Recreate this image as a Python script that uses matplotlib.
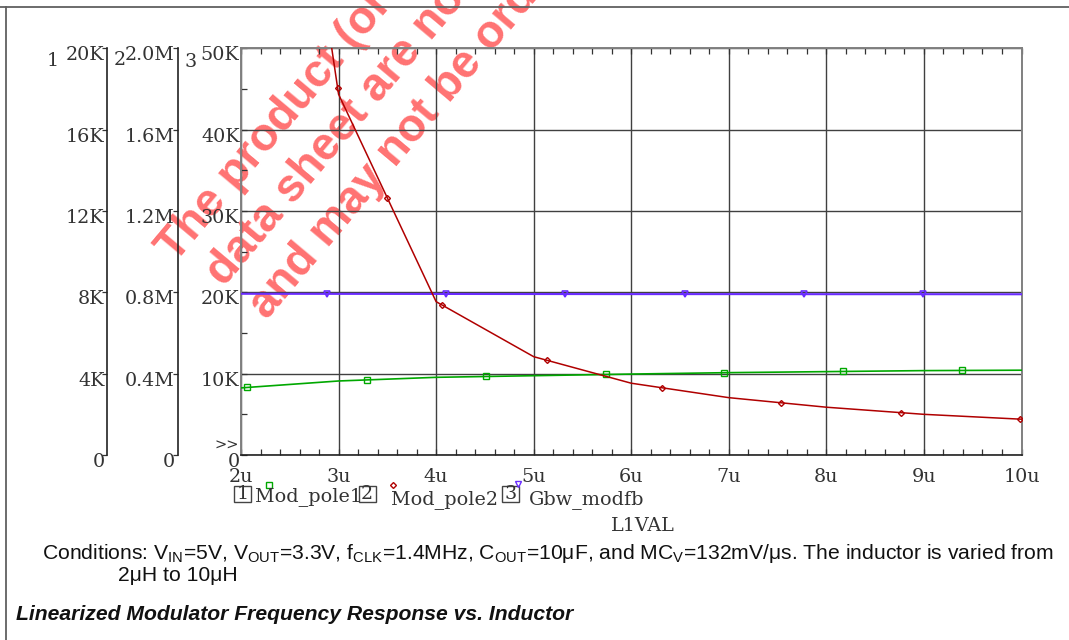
import numpy as np
import matplotlib
matplotlib.use("Agg")
import matplotlib.pyplot as plt
import matplotlib.transforms as mtransforms
from matplotlib.lines import Line2D
from matplotlib.patches import Rectangle
from matplotlib.ticker import MultipleLocator

plt.rcParams['mathtext.fontset'] = 'custom'
plt.rcParams['mathtext.rm'] = 'Liberation Sans'

# data (inductance in uH)
l1val = [2, 3, 4, 5, 6, 7, 8, 9, 10]
mod_pole1 = [3300, 3640, 3820, 3900, 3980, 4050, 4100, 4150, 4170]           # axis 1
mod_pole2 = [5.01e6, 1.774e6, 0.754e6, 0.4835e6, 0.353e6, 0.282e6,
             0.235e6, 0.200e6, 0.176e6]                                         # axis 2
gbw_modfb = [19820, 19810, 19800, 19790, 19780, 19780, 19770, 19770, 19760]   # axis 3

# where the probe tool put its trace markers
pole1_marks = [2.06, 3.29, 4.51, 5.74, 6.95, 8.17, 9.39]
pole2_marks = [2.99, 3.50, 4.06, 5.14, 6.32, 7.54, 8.76, 9.98]
gbw_marks = [2.88, 4.10, 5.32, 6.55, 7.77, 8.99]

x_ticks = [2, 3, 4, 5, 6, 7, 8, 9, 10]
x_labels = ['2u', '3u', '4u', '5u', '6u', '7u', '8u', '9u', '10u']
ax1_ticks = [0, 4000, 8000, 12000, 16000, 20000]
ax1_labels = ['0', '4K', '8K', '12K', '16K', '20K']
ax2_ticks = [0, 0.4e6, 0.8e6, 1.2e6, 1.6e6, 2.0e6]
ax2_labels = ['0', '0.4M', '0.8M', '1.2M', '1.6M', '2.0M']
ax3_ticks = [0, 10000, 20000, 30000, 40000, 50000]
ax3_labels = ['0', '10K', '20K', '30K', '40K', '50K']

W, H = 1069, 640
GREEN, RED, BLUE = '#00a800', '#b00000', '#6a2cff'
INK = '#333333'
SERIF = 'DejaVu Serif'
FS = 13.8
NOTE_FS = 15.2


def fx(x):
    return x / W


def fy(y):
    return 1 - y / H


fig = plt.figure(figsize=(W / 100, H / 100), dpi=100)

# watermark, underneath everything
wm = ['The product (or products) described in this',
      'data sheet are no longer available',
      'and may not be ordered.']
wm_pos = [(175, 264), (224, 288), (267, 321)]
for txt, (px, py) in zip(wm, wm_pos):
    fig.text(fx(px), fy(py), txt, rotation=50, rotation_mode='anchor',
             ha='left', va='baseline', color='#ff7272', fontsize=33,
             fontweight='bold', family='Liberation Sans', zorder=-1)

# page frame
fig.add_artist(Line2D([0, 1], [fy(7.3), fy(7.3)], color='#606060', lw=1.3))
fig.add_artist(Line2D([fx(5.7), fx(5.7)], [fy(7.3), 0], color='#606060', lw=1.3))

ax = fig.add_axes([fx(241), fy(455), 780.5 / W, 406.7 / H])
ax.patch.set_alpha(0)
ax.set_xlim(2, 10)
ax.set_ylim(0, 50000)
ax.set_xticks(x_ticks)
ax.set_xticklabels(x_labels)
ax.set_yticks(ax3_ticks)
ax.set_yticklabels(ax3_labels)
ax.xaxis.set_minor_locator(MultipleLocator(0.2))
ax.yaxis.set_minor_locator(MultipleLocator(5000))
ax.tick_params(which='both', direction='in', top=True, right=True,
               color=INK, width=0.9)
ax.tick_params(which='major', length=4, labelsize=FS, labelcolor=INK)
ax.tick_params(axis='x', which='major', pad=9)
ax.tick_params(axis='y', which='major', pad=1.0)
ax.tick_params(which='minor', length=4)
for lab in ax.get_xticklabels() + ax.get_yticklabels():
    lab.set_family(SERIF)
ax.grid(True, which='major', color='#404040', lw=1.0)
for side in ['left', 'top', 'right']:
    ax.spines[side].set_color('#808080')
    ax.spines[side].set_linewidth(1.4)
ax.spines['bottom'].set_color('#222222')
ax.spines['bottom'].set_linewidth(1.2)

ax.plot(l1val, gbw_modfb, color=BLUE, lw=1.5, zorder=3)
ax.plot(gbw_marks, np.interp(gbw_marks, l1val, gbw_modfb), ls='none',
        marker='v', ms=4, mfc='none', mec=BLUE, mew=1.2, zorder=3)


def side_axis(pos, lim, ticks, labels):
    a = ax.twinx()
    a.set_ylim(*lim)
    a.spines['left'].set_position(('axes', pos))
    a.spines['left'].set_visible(True)
    a.spines['left'].set_color('#222222')
    a.spines['left'].set_linewidth(1.2)
    for side in ['right', 'top', 'bottom']:
        a.spines[side].set_visible(False)
    a.yaxis.set_ticks_position('left')
    a.yaxis.set_label_position('left')
    a.set_yticks(ticks)
    a.set_yticklabels(labels)
    a.tick_params(axis='y', direction='out', length=3.5, width=0.9,
                  color=INK, pad=-1.5, labelsize=FS, labelcolor=INK)
    for lab in a.get_yticklabels():
        lab.set_family(SERIF)
    return a


ax1 = side_axis(-0.1713, (0, 20000), ax1_ticks, ax1_labels)
ax2 = side_axis(-0.0811, (0, 2.0e6), ax2_ticks, ax2_labels)

ax1.plot(l1val, mod_pole1, color=GREEN, lw=1.2)
ax1.plot(pole1_marks, np.interp(pole1_marks, l1val, mod_pole1), ls='none',
         marker='s', ms=4, mfc='none', mec=GREEN, mew=1.0)
ax2.plot(l1val, mod_pole2, color=RED, lw=1.1)
ax2.plot(pole2_marks, np.interp(pole2_marks, l1val, mod_pole2), ls='none',
         marker='D', ms=3, mfc='none', mec=RED, mew=1.0)

# tick labels sit a little below their ticks in the original
off = mtransforms.ScaledTranslation(0, -5 / 100, fig.dpi_scale_trans)
for a in (ax, ax1, ax2):
    for lab in a.get_yticklabels():
        lab.set_transform(lab.get_transform() + off)

# axis numbers and the ">>" mark
for num, (px, py) in zip(['1', '2', '3'], [(52.5, 61), (119.5, 60), (191, 62)]):
    fig.text(fx(px), fy(py), num, ha='center', va='center',
             family=SERIF, fontsize=FS, color=INK)
fig.text(fx(227), fy(446), '>>', ha='center', va='center',
         family=SERIF, fontsize=10.5, color=INK)

# legend row
legend_names = ['Mod_pole1', 'Mod_pole2', 'Gbw_modfb']
box_x = [234.3, 358.7, 502.0]
name_x = [255, 391, 529]
name_base = [501, 504, 504]
mark_xy = [(268.7, 484.7), (393.3, 484.7), (518, 484)]
mark_style = [('s', GREEN, 4), ('D', RED, 3), ('v', BLUE, 4)]
for i, name in enumerate(legend_names):
    fig.add_artist(Rectangle((fx(box_x[i]), fy(502.3)), 17 / W, 16.6 / H,
                             transform=fig.transFigure, fill=False,
                             ec='#444444', lw=1.0))
    fig.text(fx(box_x[i] + 8.5), fy(494), str(i + 1), ha='center', va='center',
             family=SERIF, fontsize=FS, color=INK)
    fig.text(fx(name_x[i]), fy(name_base[i]), name, ha='left', va='baseline',
             family=SERIF, fontsize=FS, color=INK)
    m, c, s = mark_style[i]
    fig.add_artist(Line2D([fx(mark_xy[i][0])], [fy(mark_xy[i][1])], ls='none',
                          marker=m, ms=s, mfc='none', mec=c, mew=1.0))

fig.text(fx(643), fy(530.7), 'L1VAL', ha='center', va='baseline',
         family=SERIF, fontsize=FS, color=INK)

# notes under the chart
cond = (r'Conditions: $\mathrm{V_{IN}}$=5V, $\mathrm{V_{OUT}}$=3.3V, '
        r'$\mathrm{f_{CLK}}$=1.4MHz, $\mathrm{C_{OUT}}$=10μF, and '
        r'$\mathrm{MC_{V}}$=132mV/μs. The inductor is varied from')
fig.text(fx(42.3), fy(559.3), cond, ha='left', va='baseline',
         family='Liberation Sans', fontsize=NOTE_FS, color='#111111')
fig.text(fx(118), fy(581), '2μH to 10μH', ha='left', va='baseline',
         family='Liberation Sans', fontsize=NOTE_FS, color='#111111')
fig.text(fx(16), fy(620), 'Linearized Modulator Frequency Response vs. Inductor',
         ha='left', va='baseline', family='Liberation Sans', fontsize=NOTE_FS,
         fontweight='bold', fontstyle='italic', color='#111111')

fig.savefig('out.png', dpi=100)
